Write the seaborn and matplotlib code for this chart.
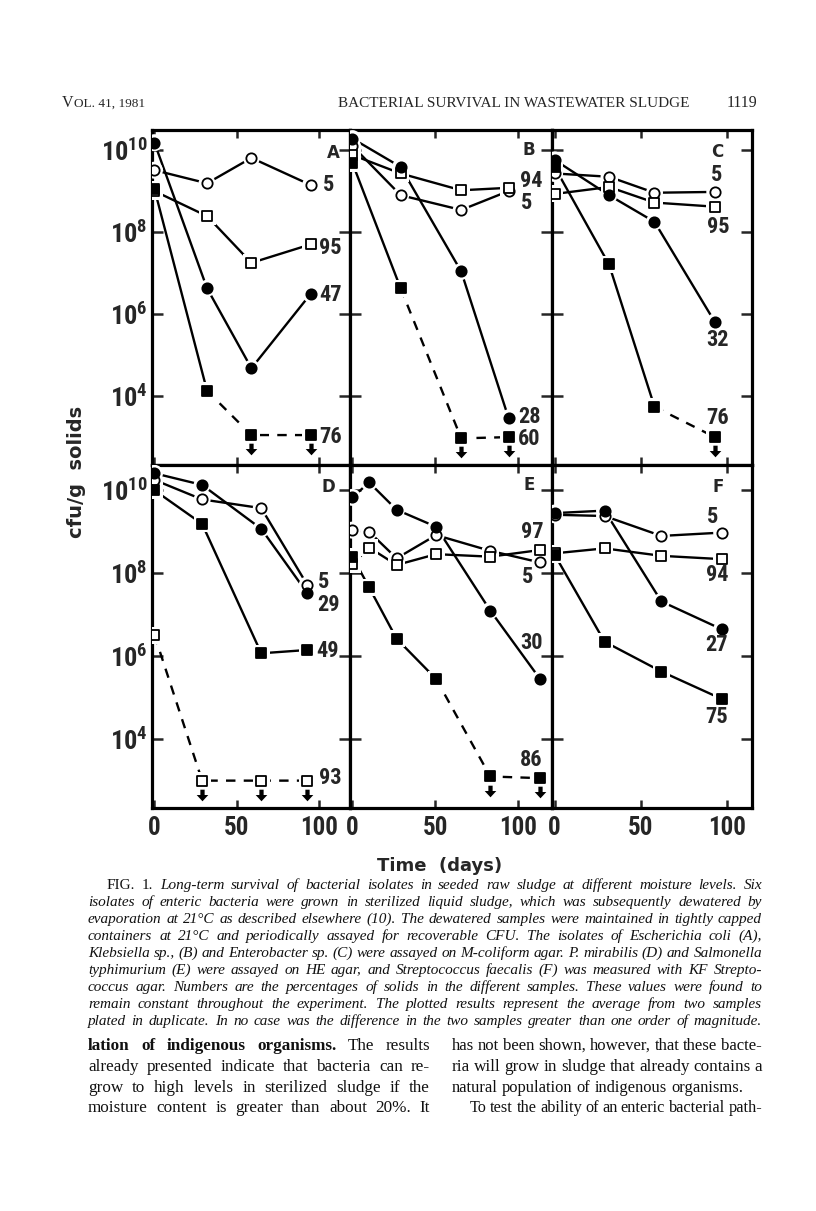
# Fig. 1 page: long-term survival of bacterial isolates in seeded raw sludge
import matplotlib
matplotlib.use("Agg")
import matplotlib.pyplot as plt
import seaborn as sns
from matplotlib.path import Path
from matplotlib import font_manager
from matplotlib.font_manager import FontProperties

# ---- data: log10 cfu/g solids ----
A_days = [0, 32, 59, 95]
A_open_circle = [9.51, 9.19, 9.81, 9.15]
A_open_square = [9.00, 8.39, 7.25, 7.70]
A_filled_circle = [10.18, 6.63, 4.68, 6.49]
A_filled_square = [9.05, 4.13, 3.05, 3.05]
A_solids = ["5", "95", "47", "76"]
A_below = [[], [], [], [2, 3]]

B_days = [0, 29, 65.5, 94]
B_open_circle = [10.10, 8.90, 8.54, 9.00]
B_open_square = [9.88, 9.43, 9.02, 9.08]
B_filled_circle = [10.28, 9.59, 7.04, 3.47]
B_filled_square = [9.68, 6.63, 2.97, 3.00]
B_solids = ["5", "94", "28", "60"]
B_below = [[], [], [], [2, 3]]

C_days = [0, 31.6, 58, 93]
C_open_circle = [9.43, 9.35, 8.96, 8.98]
C_open_square = [8.93, 9.10, 8.72, 8.62]
C_filled_circle = [9.76, 8.90, 8.25, 5.81]
C_filled_square = [9.59, 7.21, 3.74, 3.00]
C_solids = ["5", "95", "32", "76"]
C_below = [[], [], [], [3]]

D_days = [0, 29, 65, 93]
D_open_circle = [10.25, 9.78, 9.57, 7.72]
D_open_square = [6.51, 3.00, 3.00, 3.00]
D_filled_circle = [10.41, 10.13, 9.07, 7.52]
D_filled_square = [10.00, 9.19, 6.07, 6.15]
D_solids = ["5", "93", "29", "49"]
D_below = [[], [1, 2, 3], [], []]

E_days = [0, 10, 26.6, 50.4, 83, 113]
E_open_circle = [9.04, 9.00, 8.36, 8.92, 8.54, 8.26]
E_open_square = [8.22, 8.62, 8.20, 8.46, 8.40, 8.56]
E_filled_circle = [9.83, 10.19, 9.53, 9.12, 7.10, 5.45]
E_filled_square = [8.40, 7.66, 6.42, 5.45, 3.10, 3.06]
E_solids = ["5", "97", "30", "86"]
E_below = [[], [], [], [4, 5]]

F_days = [0, 29, 62, 97]
F_open_circle = [9.41, 9.38, 8.90, 8.98]
F_open_square = [8.48, 8.60, 8.42, 8.34]
F_filled_circle = [9.45, 9.51, 7.32, 6.65]
F_filled_square = [8.45, 6.35, 5.63, 4.97]
F_solids = ["5", "94", "27", "75"]
F_below = [[], [], [], []]

y_ticks = [4, 6, 8, 10]
x_ticks = [0, 50, 100]

# ---- fonts ----
def has_font(name):
    try:
        font_manager.findfont(name, fallback_to_default=False)
        return True
    except ValueError:
        return False

def pick_condensed_bold():
    # look for any narrow / condensed bold sans face on the system
    prefs = ["Liberation Sans Narrow", "Roboto Condensed", "Noto Sans", "DejaVu Sans",
             "Open Sans", "Lato", "Inter", "Roboto"]
    found = []
    for f in font_manager.fontManager.ttflist:
        narrow = ("Narrow" in f.name or "Condensed" in f.name
                  or f.stretch in ("condensed", "semi-condensed", "extra-condensed"))
        w = f.weight if isinstance(f.weight, int) else (700 if f.weight == "bold" else 400)
        if narrow and w >= 600 and f.style == "normal":
            rank = next((i for i, p in enumerate(prefs) if f.name.startswith(p)), 99)
            found.append((rank, f))
    if found:
        found.sort(key=lambda t: t[0])
        return found[0][1]
    return None

cond = pick_condensed_bold()
MATH_BF = "Liberation Sans:bold"
if cond is not None:
    COND_FILE = cond.fname
    pat = cond.name + ":bold"
    if cond.stretch != "normal":
        pat += ":stretch=" + str(cond.stretch)
    try:
        FontProperties(pat)
        MATH_BF = pat
    except Exception:
        pass
else:
    COND_FILE = font_manager.findfont(FontProperties(family="Liberation Sans", weight="bold"))

def cfp(size):
    return FontProperties(fname=COND_FILE, size=size)

SERIF = "Liberation Serif" if has_font("Liberation Serif") else "DejaVu Serif"

sns.set_theme(style="white")
plt.rcParams["font.family"] = ["DejaVu Sans"]
plt.rcParams["mathtext.fontset"] = "custom"
plt.rcParams["mathtext.rm"] = MATH_BF
plt.rcParams["mathtext.bf"] = MATH_BF

W, H = 816, 1211
fig = plt.figure(figsize=(W / 100, H / 100), dpi=100)
fig.patch.set_facecolor("white")

def fx(px):
    return px / W

def fy(py):
    return 1 - py / H

# ---- layout (pixels of the page) ----
cols = [(152, 350, 119.0), (350, 552, 120.2), (552, 752, 114.6)]
rows = [(130, 465, 2.32, 10.49), (465, 808, 2.34, 10.61)]

panels = [
    ("A", 0, 0, A_days, [A_open_circle, A_open_square, A_filled_circle, A_filled_square], A_solids, A_below,
     [(105.7, 9.15), (106.9, 7.61), (106.9, 6.46), (106.9, 3.0)], (108.7, 9.93)),
    ("B", 0, 1, B_days, [B_open_circle, B_open_square, B_filled_circle, B_filled_square], B_solids, B_below,
     [(104.8, 8.70), (107.7, 9.25), (106.5, 3.49), (106.5, 2.95)], (106.5, 10.0)),
    ("C", 0, 2, C_days, [C_open_circle, C_open_square, C_filled_circle, C_filled_square], C_solids, C_below,
     [(94.3, 9.39), (94.8, 8.12), (94.8, 5.37), (94.8, 3.46)], (94.3, 9.95)),
    ("D", 1, 0, D_days, [D_open_circle, D_open_square, D_filled_circle, D_filled_square], D_solids, D_below,
     [(102.7, 7.79), (106.9, 3.07), (105.7, 7.24), (105.1, 6.13)], (105.7, 10.08)),
    ("E", 1, 1, E_days, [E_open_circle, E_open_square, E_filled_circle, E_filled_square], E_solids, E_below,
     [(105.4, 7.91), (108.3, 9.0), (107.7, 6.33), (107.7, 3.5)], (106.5, 10.13)),
    ("F", 1, 2, F_days, [F_open_circle, F_open_square, F_filled_circle, F_filled_square], F_solids, F_below,
     [(92.0, 9.36), (94.3, 7.96), (94.3, 6.27), (94.3, 4.54)], (94.8, 10.08)),
]

# marker style per series: (marker, face)
styles = [("o", "white"), ("s", "white"), ("o", "black"), ("s", "black")]

arrow = Path([(-0.22, 0.6), (0.22, 0.6), (0.22, 0.05), (0.6, 0.05), (0, -0.6),
              (-0.6, 0.05), (-0.22, 0.05), (-0.22, 0.6)])

for letter, r, c, days, series, solids, below, lab_xy, let_xy in panels:
    x0, x1, xmax = cols[c]
    y0, y1, ymin, ymax = rows[r]
    ax = fig.add_axes([fx(x0), fy(y1), (x1 - x0) / W, (y1 - y0) / H])
    ax.set_facecolor("white")
    ax.set_xlim(-1.5, xmax)
    ax.set_ylim(ymin, ymax)
    for s in ax.spines.values():
        s.set_color("black")
        s.set_linewidth(2.3)
    ax.set_xticks(x_ticks)
    ax.set_yticks(y_ticks)
    ax.tick_params(axis="x", direction="in", top=True, bottom=True, length=6, width=1.8,
                   labelbottom=(r == 1), pad=6)
    ax.tick_params(axis="y", direction="in", left=True, right=True, length=8, width=1.8,
                   labelleft=(c == 0), pad=3)
    if r == 1:
        ax.set_xticklabels([str(t) for t in x_ticks], fontproperties=cfp(18))
    if c == 0:
        ax.set_yticklabels([r"$\mathbf{10^{%d}}$" % t for t in y_ticks], fontsize=19)
    ax.grid(False)

    for vals, (mk, face), bd in zip(series, styles, below):
        split = (min(bd) - 1) if bd else len(days) - 1
        sns.lineplot(x=days[:split + 1], y=vals[:split + 1], ax=ax, color="black",
                     lw=1.7, sort=False, estimator=None, zorder=2)
        if split < len(days) - 1:
            sns.lineplot(x=days[split:], y=vals[split:], ax=ax, color="black",
                         lw=1.7, sort=False, estimator=None, zorder=2,
                         linestyle=(0, (4, 3.5)))
        sns.scatterplot(x=days, y=vals, ax=ax, marker=mk, s=150, color="white",
                        edgecolor="none", linewidth=0, zorder=3)
        sns.scatterplot(x=days, y=vals, ax=ax, marker=mk, s=55 if mk == "o" else 50,
                        color=face, edgecolor="black", linewidth=1.3, zorder=4)
        if bd:
            ax.scatter([days[i] for i in bd], [vals[i] - 0.34 for i in bd], marker=arrow,
                       s=70, color="black", linewidths=0, zorder=4)

    for txt, (lx, ly) in zip(solids, lab_xy):
        ax.text(lx, ly, txt, ha="center", va="center", fontproperties=cfp(16), zorder=6)
    ax.text(let_xy[0], let_xy[1], letter, ha="center", va="center", fontsize=12,
            weight="bold", family="DejaVu Sans", zorder=6)

# axis titles
fig.text(fx(440), fy(866), "Time  (days)", ha="center", va="center", fontsize=13,
         weight="bold", family="DejaVu Sans")
fig.text(fx(76), fy(472), "cfu/g  solids", ha="center", va="center", fontsize=14,
         weight="bold", family="DejaVu Sans", rotation=90)

# ---- page text ----
renderer = fig.canvas.get_renderer()

def put_line(words, x0, x1, base, size, justify=True):
    # set words one by one so the line can be justified; shrink if it would overflow
    while True:
        objs = [fig.text(0, fy(base), w, fontsize=size, family=SERIF, style=st,
                         weight=wt, va="baseline", ha="left", color="#111111")
                for w, st, wt in words]
        widths = [t.get_window_extent(renderer).width for t in objs]
        space = size * 0.25 * 100 / 72
        need = sum(widths) + 0.75 * space * (len(objs) - 1)
        if need <= x1 - x0 or size < 7:
            break
        for t in objs:
            t.remove()
        size -= 0.2
    if justify and len(objs) > 1:
        gap = (x1 - x0 - sum(widths)) / (len(objs) - 1)
    else:
        gap = space
    x = x0
    for t, w in zip(objs, widths):
        t.set_x(fx(x))
        x += w + gap

def words_of(line, style="normal", weight="normal", special=None):
    out = []
    for w in line.split():
        st, wt = style, weight
        if special and w in special:
            st, wt = special[w]
        out.append((w, st, wt))
    return out

# header
v = fig.text(fx(62), fy(107), "V", fontsize=11.5, family=SERIF, va="baseline")
vw = v.get_window_extent(renderer).width
fig.text(fx(62 + vw + 0.5), fy(107), "OL. 41, 1981", fontsize=9.5, family=SERIF, va="baseline")
fig.text(fx(690), fy(107), "BACTERIAL SURVIVAL IN WASTEWATER SLUDGE", fontsize=11,
         family=SERIF, va="baseline", ha="right")
fig.text(fx(757), fy(107), "1119", fontsize=11.5, family=SERIF, va="baseline", ha="right")

caption = [
    "FIG. 1. Long-term survival of bacterial isolates in seeded raw sludge at different moisture levels. Six",
    "isolates of enteric bacteria were grown in sterilized liquid sludge, which was subsequently dewatered by",
    "evaporation at 21°C as described elsewhere (10). The dewatered samples were maintained in tightly capped",
    "containers at 21°C and periodically assayed for recoverable CFU. The isolates of Escherichia coli (A),",
    "Klebsiella sp., (B) and Enterobacter sp. (C) were assayed on M-coliform agar. P. mirabilis (D) and Salmonella",
    "typhimurium (E) were assayed on HE agar, and Streptococcus faecalis (F) was measured with KF Strepto-",
    "coccus agar. Numbers are the percentages of solids in the different samples. These values were found to",
    "remain constant throughout the experiment. The plotted results represent the average from two samples",
    "plated in duplicate. In no case was the difference in the two samples greater than one order of magnitude.",
]
for i, line in enumerate(caption):
    sp = {"FIG.": ("normal", "normal"), "1.": ("normal", "normal")} if i == 0 else None
    put_line(words_of(line, style="italic", special=sp), 107 if i == 0 else 88, 762,
             889 + 17 * i, 11.0)

left_col = [
    "lation of indigenous organisms. The results",
    "already presented indicate that bacteria can re-",
    "grow to high levels in sterilized sludge if the",
    "moisture content is greater than about 20%. It",
]
right_col = [
    "has not been shown, however, that these bacte-",
    "ria will grow in sludge that already contains a",
    "natural population of indigenous organisms.",
    "To test the ability of an enteric bacterial path-",
]
bold_words = {w: ("normal", "bold") for w in ["lation", "of", "indigenous", "organisms."]}
for i, line in enumerate(left_col):
    put_line(words_of(line, special=bold_words if i == 0 else None), 88, 430,
             1050 + 20.8 * i, 12.3)
for i, line in enumerate(right_col):
    put_line(words_of(line), 470 if i == 3 else 452, 762 if i != 2 else 742,
             1050 + 20.8 * i, 12.3, justify=(i != 2))

fig.savefig("out.png", dpi=100, facecolor="white")
